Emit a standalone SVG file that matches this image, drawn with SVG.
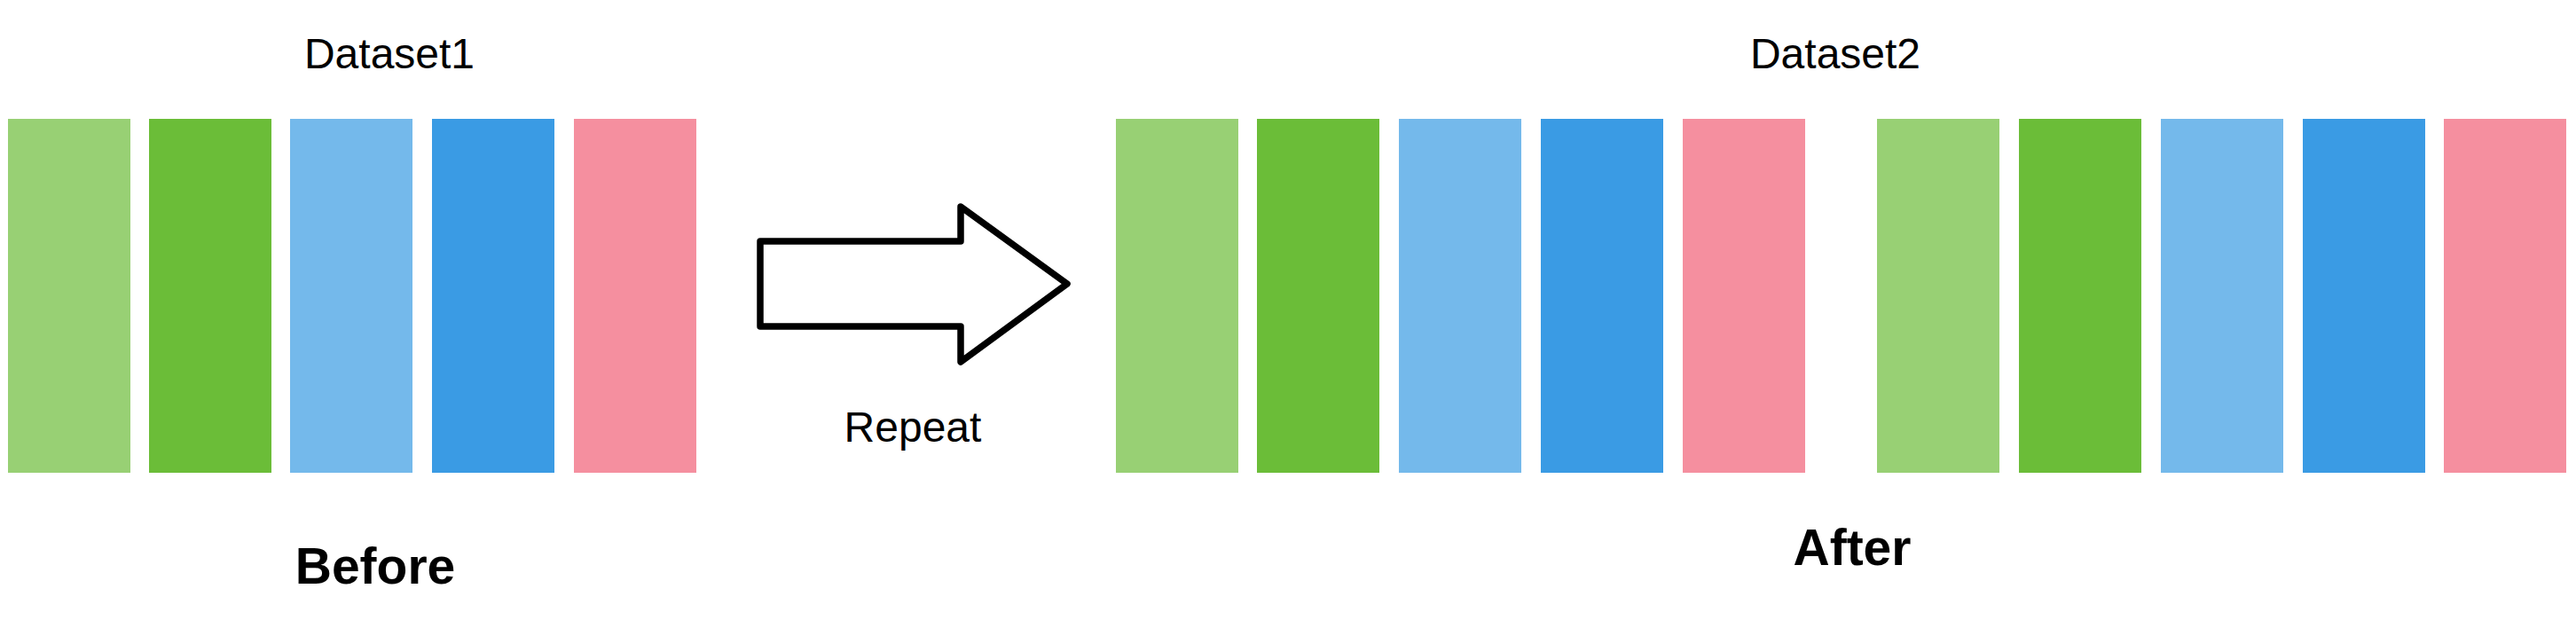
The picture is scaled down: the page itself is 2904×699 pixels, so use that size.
<svg xmlns="http://www.w3.org/2000/svg" width="2904" height="699" viewBox="0 0 2904 699">
<style>
.lbl{font-family:"Liberation Sans",Arial,sans-serif;fill:#000;text-anchor:middle}
.t{font-size:48px}
.b{font-size:57px;font-weight:bold}
.c1{fill:#98D074}.c2{fill:#6BBD38}.c3{fill:#74B9EB}.c4{fill:#3A9BE4}.c5{fill:#F58F9F}
.arrow{fill:#fff;stroke:#000;stroke-width:7.5;stroke-linejoin:round}
</style>
<rect width="2904" height="699" fill="#fff"/>
<g id="dataset1">
<text class="lbl t" x="439" y="77">Dataset1</text>
<rect class="c1" x="9" y="134" width="138" height="399"/>
<rect class="c2" x="168" y="134" width="138" height="399"/>
<rect class="c3" x="327" y="134" width="138" height="399"/>
<rect class="c4" x="487" y="134" width="138" height="399"/>
<rect class="c5" x="647" y="134" width="138" height="399"/>
<text class="lbl b" x="423" y="658">Before</text>
</g>
<g id="connectors">
<path class="arrow" d="M857,272 L1083,272 L1083,233 L1203,320 L1083,408 L1083,368 L857,368 Z"/>
<text class="lbl t" x="1029" y="498">Repeat</text>
</g>
<g id="dataset2">
<text class="lbl t" x="2069" y="77">Dataset2</text>
<rect class="c1" x="1258" y="134" width="138" height="399"/>
<rect class="c2" x="1417" y="134" width="138" height="399"/>
<rect class="c3" x="1577" y="134" width="138" height="399"/>
<rect class="c4" x="1737" y="134" width="138" height="399"/>
<rect class="c5" x="1897" y="134" width="138" height="399"/>
<rect class="c1" x="2116" y="134" width="138" height="399"/>
<rect class="c2" x="2276" y="134" width="138" height="399"/>
<rect class="c3" x="2436" y="134" width="138" height="399"/>
<rect class="c4" x="2596" y="134" width="138" height="399"/>
<rect class="c5" x="2755" y="134" width="138" height="399"/>
<text class="lbl b" x="2088" y="637">After</text>
</g>
</svg>
